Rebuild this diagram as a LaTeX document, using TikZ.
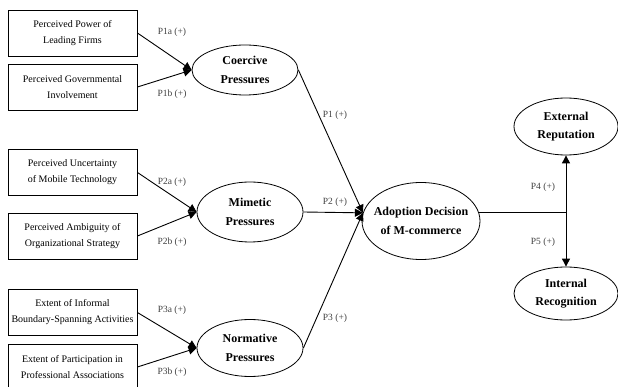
\documentclass[tikz,border=0pt]{standalone}
\usepackage{fontspec}
\setmainfont{Liberation Serif}
\usetikzlibrary{arrows.meta,shapes.geometric,calc}
\begin{document}
\begin{tikzpicture}[x=1pt,y=-1pt,
 box/.style={draw,line width=0.9pt,minimum width=129pt,minimum height=46pt,inner sep=0pt,align=center,font=\fontsize{10}{16}\selectfont},
 ell/.style={draw,ellipse,line width=0.8pt,inner sep=0pt},
 elltext/.style={inner sep=0pt,align=center,font=\fontsize{12}{18.5}\selectfont\bfseries},
 arr/.style={line width=0.9pt,-{Triangle[length=8pt,width=8pt]}},
 plain/.style={line width=0.9pt},
 lab/.style={font=\fontsize{9.5}{11}\selectfont,text=black!75,inner sep=0pt}]
\useasboundingbox (0,0) rectangle (618,387);
% boxes
\node[box] (b1) at (72.5,33) {Perceived Power of\\Leading Firms};
\node[box] (b2) at (72.5,87) {Perceived Governmental\\Involvement};
\node[box] (b3) at (72.5,172.5) {Perceived Uncertainty\\of Mobile Technology};
\node[box] (b4) at (72.5,236) {Perceived Ambiguity of\\Organizational Strategy};
\node[box] (b5) at (72.5,312.5) {Extent of Informal\\Boundary-Spanning Activities};
\node[box] (b6) at (72.5,367) {Extent of Participation in\\Professional Associations};
% ellipses
\node[ell,minimum width=106pt,minimum height=50pt] (co) at (245,70) {};
\node[ell,minimum width=106pt,minimum height=60pt] (mi) at (250,212) {};
\node[ell,minimum width=106pt,minimum height=57pt] (no) at (250,348) {};
\node[ell,minimum width=118pt,minimum height=77pt] (ad) at (421,221) {};
\node[ell,minimum width=104pt,minimum height=57pt] (ex) at (566,126.5) {};
\node[ell,minimum width=104pt,minimum height=53pt] (in) at (566,293.5) {};
\node[elltext] (tco) at (co) {Coercive\\Pressures};
\node[elltext] (tmi) at (mi) {Mimetic\\Pressures};
\node[elltext] (tno) at (no) {Normative\\Pressures};
\node[elltext] (tad) at (ad) {Adoption Decision\\of M-commerce};
\node[elltext] (tex) at (ex) {External\\Reputation};
\node[elltext] (tin) at (in) {Internal\\Recognition};
% connectors
\draw[arr] (b1.east) -- (co.west);
\draw[arr] (b2.east) -- (co.west);
\draw[arr] (b3.east) -- (mi.west);
\draw[arr] (b4.east) -- (mi.west);
\draw[arr] (b5.east) -- (no.west);
\draw[arr] (b6.east) -- (no.west);
\draw[arr] (co.east) -- (ad.172);
\draw[arr] (mi.east) -- (ad.172);
\draw[arr] (no.east) -- (ad.172);
\coordinate (j) at (ad.8 -| ex.south);
\draw[plain] (ad.8) -- (j);
\draw[arr] (j) -- (ex.south);
\draw[arr] (j) -- (in.north);
% labels
\node[lab] (l1a) at (172,32) {P1a (+)};
\node[lab] (l1b) at (172,94) {P1b (+)};
\node[lab] (l2a) at (172,182) {P2a (+)};
\node[lab] (l2b) at (172,242) {P2b (+)};
\node[lab] (l3a) at (172,310) {P3a (+)};
\node[lab] (l3b) at (172,372) {P3b (+)};
\node[lab] (l1) at (335,115) {P1 (+)};
\node[lab] (l2) at (335,202) {P2 (+)};
\node[lab] (l3) at (335,318) {P3 (+)};
\node[lab] (l4) at (543,187) {P4 (+)};
\node[lab] (l5) at (543,242) {P5 (+)};
\end{tikzpicture}
\end{document}
